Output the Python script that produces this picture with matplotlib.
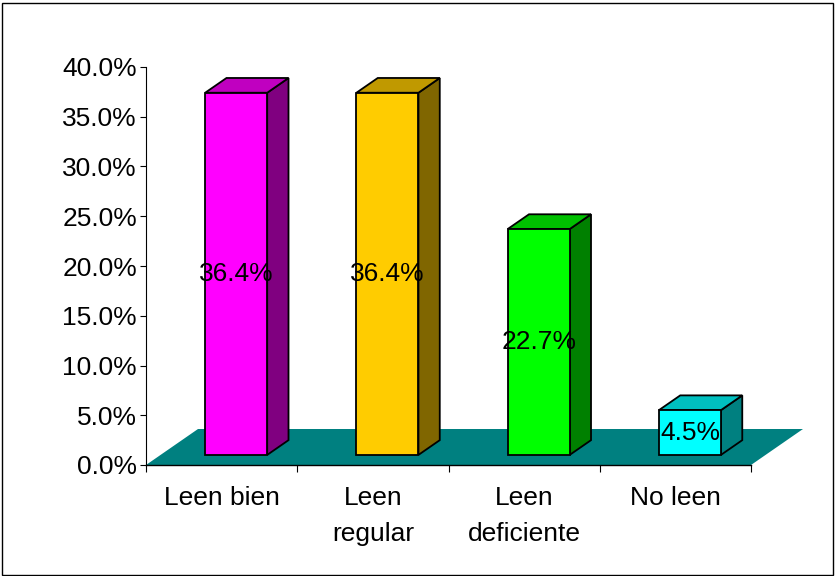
import matplotlib
matplotlib.use("Agg")
import matplotlib.pyplot as plt
from matplotlib.patches import Polygon, Rectangle

categories = ["Leen bien", "Leen\nregular", "Leen\ndeficiente", "No leen"]
values = [36.4, 36.4, 22.7, 4.5]
labels = ["36.4%", "36.4%", "22.7%", "4.5%"]
yticks = [0, 5, 10, 15, 20, 25, 30, 35, 40]
front_colors = ["#FF00FF", "#FFCC00", "#00FF00", "#00FFFF"]
top_colors = ["#C000C0", "#C09900", "#00C000", "#00C0C0"]
side_colors = ["#800080", "#806600", "#008000", "#008080"]
floor_color = "#008080"

plt.rcParams['font.family'] = ['Liberation Sans', 'DejaVu Sans']
FS = 19

W, H = 835, 576
fig = plt.figure(figsize=(W / 100, H / 100), dpi=100)
fig.patch.set_facecolor("white")
fig.add_artist(Rectangle((1.5 / W, 1.5 / H), (W - 4) / W, (H - 4) / H,
                         transform=fig.transFigure, fill=False,
                         edgecolor="black", linewidth=1.0))

x0, x1 = 146, 751
y0, y1 = 465, 67
ax = fig.add_axes([x0 / W, (H - y0) / H, (x1 - x0) / W, (y0 - y1) / H])
ax.set_xlim(0, 4)
ax.set_ylim(0, 40)
ax.patch.set_alpha(0)

px_x = (x1 - x0) / 4.0
px_y = (y0 - y1) / 40.0
DX = 52 / px_x
DY = 36 / px_y

# floor
ax.add_patch(Polygon([(0, 0), (4, 0), (4 + DX, DY), (DX, DY)], closed=True,
                     facecolor=floor_color, edgecolor="none", zorder=1, clip_on=False))

f0, f1 = 0.28, 0.69
bw = 0.41
for i, v in enumerate(values):
    xl = i + 0.5 - bw / 2 + f0 * DX
    xr = xl + bw
    yb = f0 * DY
    yt = yb + v
    ddx = (f1 - f0) * DX
    ddy = (f1 - f0) * DY
    kw = dict(closed=True, edgecolor="black", linewidth=1.3, zorder=3, clip_on=False,
              joinstyle="miter")
    ax.add_patch(Polygon([(xr, yb), (xr + ddx, yb + ddy), (xr + ddx, yt + ddy), (xr, yt)],
                         facecolor=side_colors[i], **kw))
    ax.add_patch(Polygon([(xl, yt), (xr, yt), (xr + ddx, yt + ddy), (xl + ddx, yt + ddy)],
                         facecolor=top_colors[i], **kw))
    ax.add_patch(Polygon([(xl, yb), (xr, yb), (xr, yt), (xl, yt)],
                         facecolor=front_colors[i], **kw))
    ax.text((xl + xr) / 2, (yb + yt) / 2, labels[i], ha="center", va="center",
            fontsize=FS, color="black", zorder=5, clip_on=False)

for s in ["top", "right"]:
    ax.spines[s].set_visible(False)
ax.spines["left"].set_linewidth(0.8)
ax.spines["bottom"].set_linewidth(1.0)
ax.spines["bottom"].set_zorder(2)

ax.set_yticks(yticks)
ax.set_yticklabels([f"{t:.1f}%" for t in yticks], fontsize=FS)
ax.tick_params(axis="y", direction="out", length=4.5, width=0.8, pad=2)

ax.set_xticks([0, 1, 2, 3, 4])
ax.set_xticklabels([])
ax.tick_params(axis="x", which="major", direction="out", length=5, width=0.8)
ax.set_xticks([0.5, 1.5, 2.5, 3.5], minor=True)
ax.set_xticklabels(categories, minor=True, fontsize=FS, linespacing=1.65, va="top")
ax.tick_params(axis="x", which="minor", length=0, pad=15)

fig.savefig("out.png", dpi=100, facecolor="white")
